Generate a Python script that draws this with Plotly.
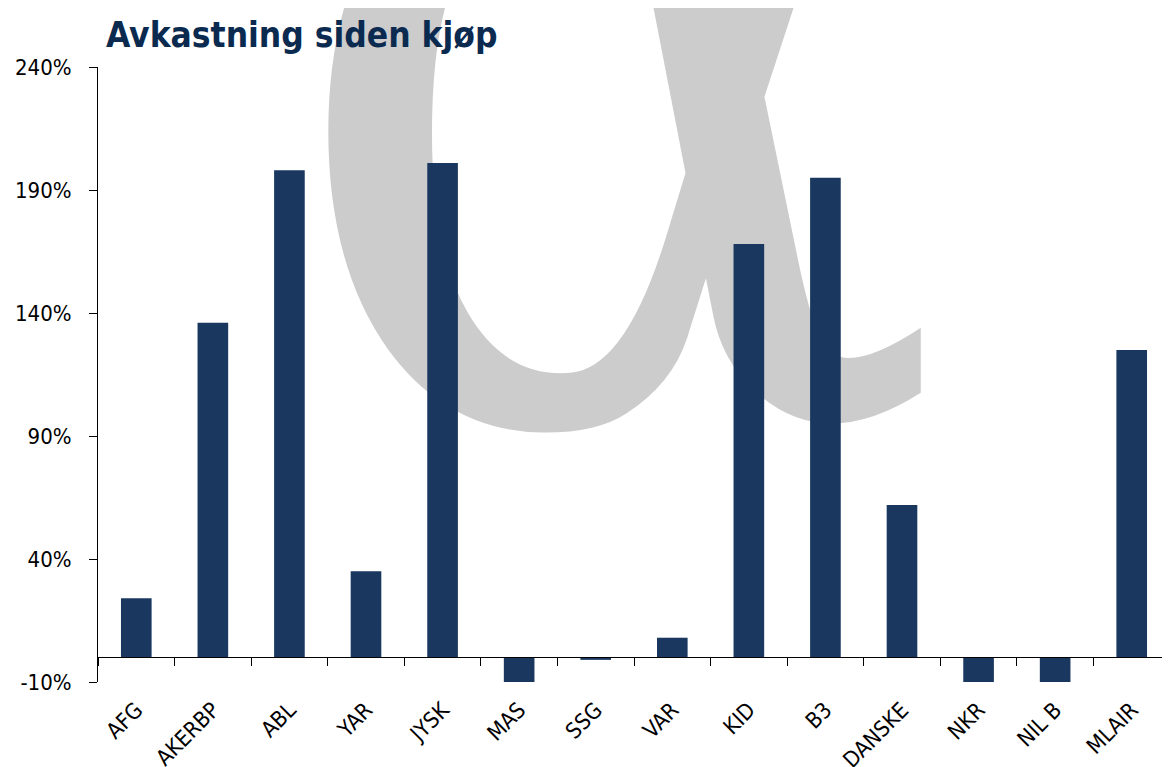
import plotly.graph_objects as go

categories = ["AFG", "AKERBP", "ABL", "YAR", "JYSK", "MAS", "SSG", "VAR",
              "KID", "B3", "DANSKE", "NKR", "NIL B", "MLAIR"]
returns_pct = [24, 136, 198, 35, 201, -11, -1, 8, 168, 195, 62, -11, -11, 125]
y_ticks = [-10, 40, 90, 140, 190, 240]
y_tick_labels = [f"{v}%" for v in y_ticks]
title_text = "Avkastning siden kjøp"
watermark = "α"

FONT = "DejaVu Sans Condensed, DejaVu Sans, sans-serif"
BAR = "#19375F"

W, H = 1162, 759
L, R, T, B = 90, 0, 59, 85
PW, PH = W - L - R, H - T - B

def px(fx):
    return (fx - L) / PW

def py(fy):
    return (H - B - fy) / PH

fig = go.Figure()
fig.add_trace(go.Bar(
    x=categories, y=returns_pct,
    marker=dict(color=BAR, line=dict(width=0)),
    hoverinfo="x+y",
))

# watermark alpha behind the bars
WM_SIZE = 1100
cx, cy = 605, 424 - 0.43 * WM_SIZE
fig.add_shape(
    type="rect", xref="paper", yref="paper",
    x0=px(cx - 40), x1=px(cx + 40), y0=py(cy + 40), y1=py(cy - 40),
    line=dict(width=0), fillcolor="rgba(0,0,0,0)", layer="below",
    label=dict(text=watermark, textposition="middle center",
               font=dict(family="DejaVu Serif Condensed, DejaVu Serif",
                         size=WM_SIZE, color="#CCCCCC")),
)

fig.update_layout(
    width=W, height=H,
    margin=dict(l=L, r=R, t=T, b=B),
    paper_bgcolor="white", plot_bgcolor="rgba(0,0,0,0)",
    bargap=0.6, showlegend=False,
    font=dict(family=FONT, color="black", size=22),
    title=dict(text=f"<b>{title_text}</b>", x=98/W, xanchor="left",
               xref="container", y=1 - 27/H, yanchor="middle", yref="container",
               font=dict(family=FONT, size=35, color="#0B2A50")),
    yaxis=dict(range=[-10, 240], tickvals=y_ticks, ticktext=y_tick_labels,
               showgrid=False, zeroline=False, showline=True, linecolor="black",
               linewidth=1, ticks="outside", ticklen=8, tickcolor="black",
               ticklabelstandoff=13, tickfont=dict(size=22), automargin=False),
    xaxis=dict(type="category", anchor="free", position=10/250,
               showgrid=False, zeroline=False, showline=True, linecolor="black",
               linewidth=1, ticks="outside", ticklen=8, tickcolor="black",
               tickson="boundaries", tickangle=-45, ticklabelstandoff=30,
               tickfont=dict(size=22), automargin=False),
)

fig.write_html("out.html")
